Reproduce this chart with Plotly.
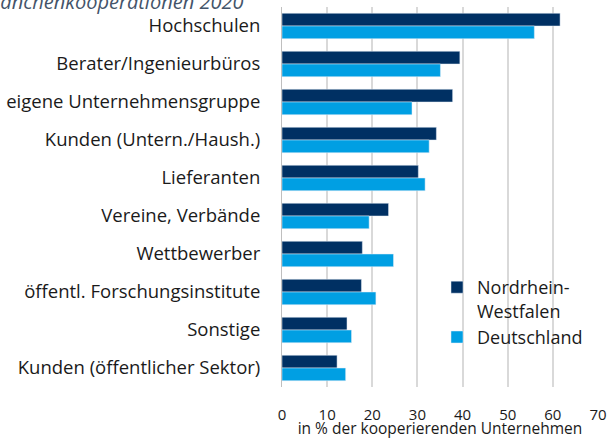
import plotly.graph_objects as go

categories = [
    "Hochschulen",
    "Berater/Ingenieurbüros",
    "eigene Unternehmensgruppe",
    "Kunden (Untern./Haush.)",
    "Lieferanten",
    "Vereine, Verbände",
    "Wettbewerber",
    "öffentl. Forschungsinstitute",
    "Sonstige",
    "Kunden (öffentlicher Sektor)",
]
nrw = [61.6, 39.4, 37.8, 34.2, 30.2, 23.6, 17.8, 17.6, 14.4, 12.2]
de = [55.9, 35.1, 28.8, 32.6, 31.7, 19.3, 24.7, 20.8, 15.4, 14.1]
x_ticks = [0, 10, 20, 30, 40, 50, 60, 70]

FONT = "Open Sans"
PW = 316.0

fig = go.Figure()
fig.add_trace(go.Bar(y=categories, x=nrw, orientation="h", name="Nordrhein-<br>Westfalen",
                     legendgroup="a", marker=dict(color="#003063")))
fig.add_trace(go.Bar(y=categories, x=de, orientation="h", name="Deutschland",
                     legendgroup="b", marker=dict(color="#009FE3")))

fig.update_layout(
    width=607, height=439,
    margin=dict(l=282, r=9, t=7, b=52, autoexpand=False),
    paper_bgcolor="white", plot_bgcolor="white",
    barmode="group", bargap=0.33, bargroupgap=0,
    font=dict(family=FONT, size=18, color="#1a1a1a"),
    showlegend=True,
    legend=dict(x=(437 - 282) / PW, y=(387 - 269) / 380, xanchor="left", yanchor="top",
                bgcolor="rgba(0,0,0,0)", font=dict(size=18, color="#1a1a1a"),
                traceorder="grouped", itemwidth=30, tracegroupgap=0, valign="top"),
)
fig.update_xaxes(range=[0, 70], tickvals=x_ticks, showgrid=True, gridcolor="#d9d9d9",
                 gridwidth=1.5, zeroline=False, showline=False, automargin=False,
                 ticklabelstandoff=17, ticklabeloverflow="allow", tickfont=dict(size=15),
                 title=dict(text="in % der kooperierenden Unternehmen", font=dict(size=15.5), standoff=1))
fig.update_yaxes(autorange="reversed", showgrid=False, showline=True, linecolor="#bfbfbf",
                 linewidth=1, ticks="", ticklabelstandoff=17, tickfont=dict(size=18.5),
                 automargin=False)

fig.add_annotation(text="Partner bei Branchenkooperationen 2020", xref="paper", yref="paper",
                   x=(245 - 282) / PW, y=1, xanchor="right", yanchor="bottom", yshift=-10,
                   showarrow=False,
                   font=dict(family=FONT, size=20, color="#44546A", style="italic"))

fig.write_html("out.html", post_script="document.body.style.margin='0';",
               config={"displayModeBar": False})
